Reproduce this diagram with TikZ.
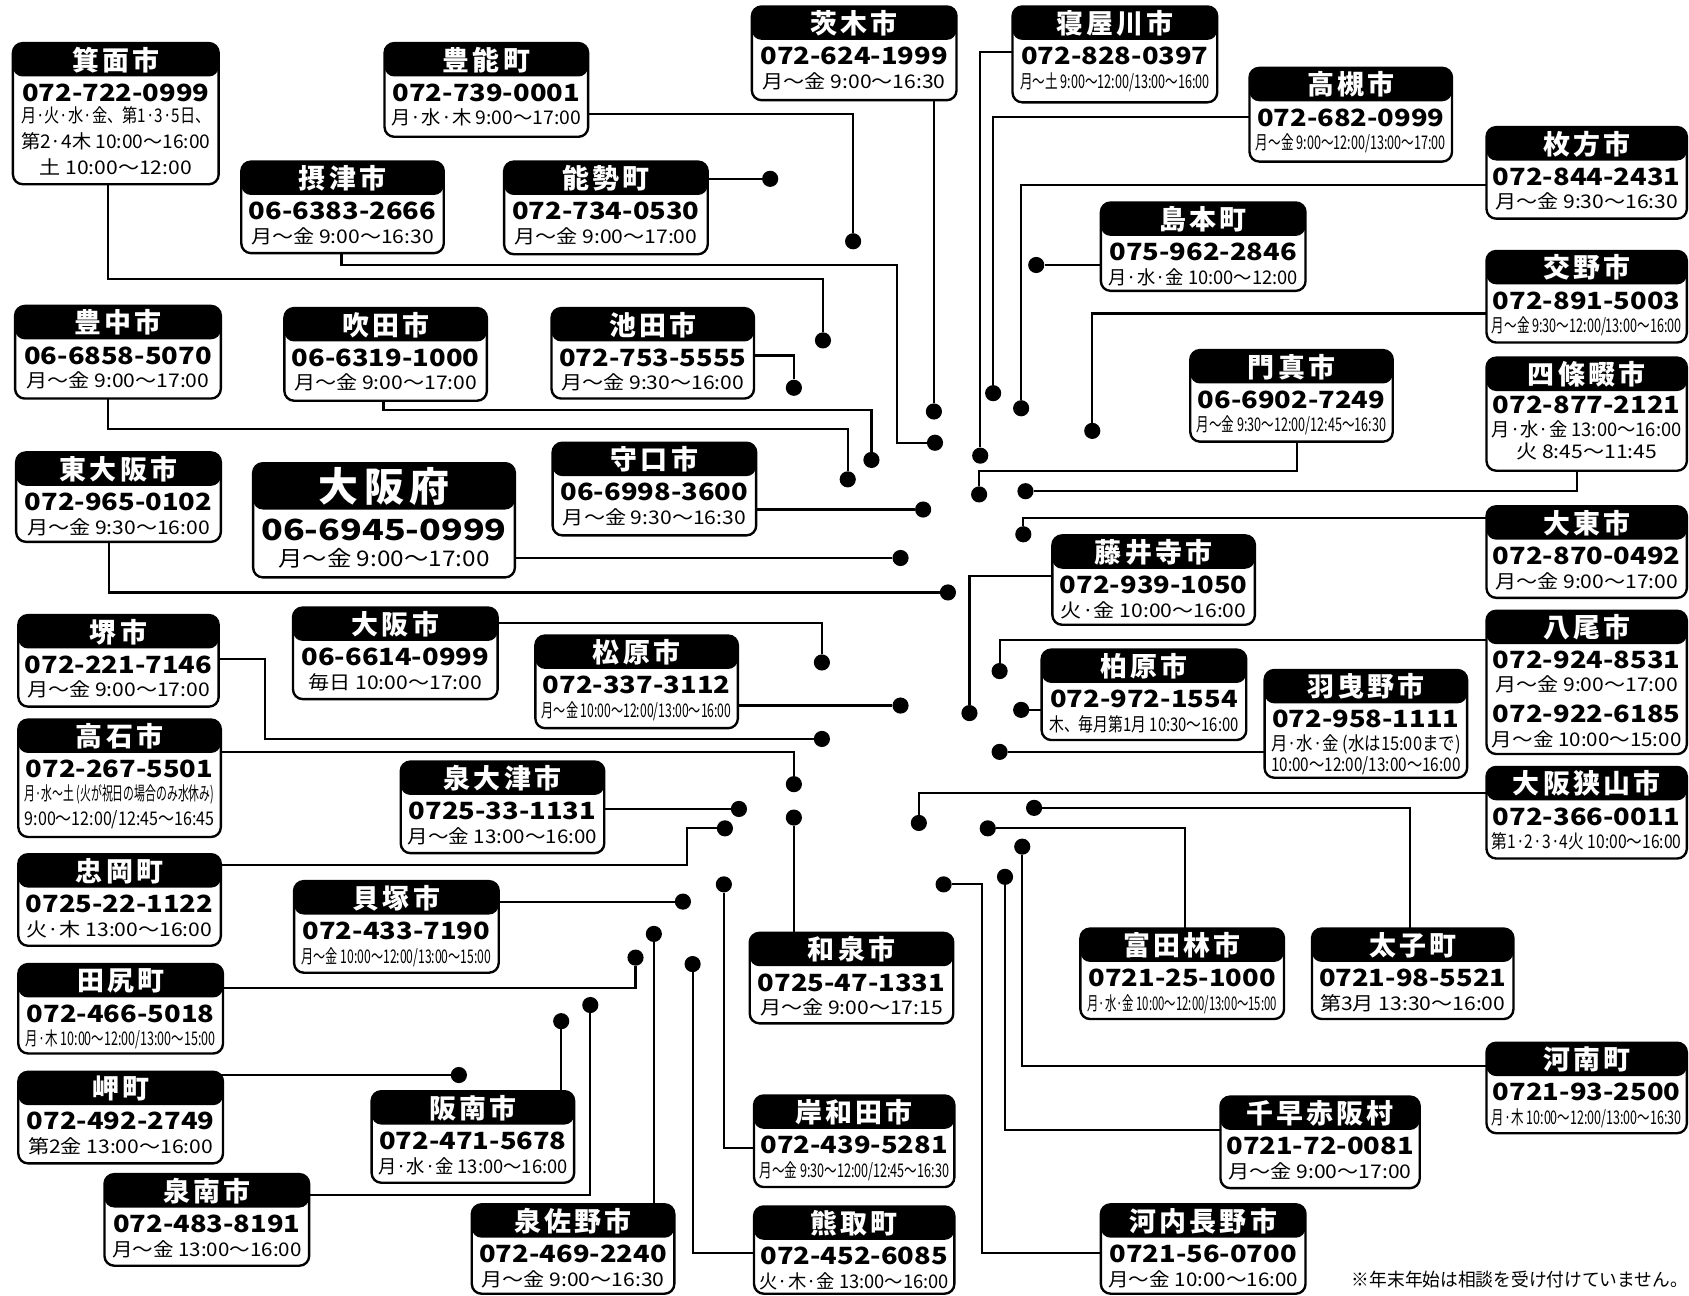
\documentclass[tikz,border=0pt]{standalone}
\usepackage{fontspec}
\setmainfont{Noto Sans CJK JP}
\usepackage{graphicx}
\newsavebox\tbx
\newcommand\PH[1]{\resizebox{174pt}{\height}{\fontsize{22}{22}\selectfont\bfseries #1}}
\newcommand\HR[1]{\sbox\tbx{\fontsize{17.5}{17.5}\selectfont #1}\pgfmathsetmacro\hrsc{min(1.12,176/\wd\tbx)}\scalebox{\hrsc}[1]{\usebox\tbx}}
\tikzset{
  cbx/.style={draw, line width=2.2pt, rounded corners=9pt, fill=white, inner sep=0pt, outer sep=0pt,
    path picture={\fill[black] (path picture bounding box.north west) rectangle ([yshift=-#1]path picture bounding box.north east);}},
  cbx/.default=31pt,
  ttl/.style={text=white, inner sep=0pt, font=\fontsize{25}{25}\selectfont\bfseries\addfontfeature{LetterSpace=12}},
  conn/.style={line width=2pt, line join=miter},
  dot/.style={circle, fill=black, inner sep=0pt, minimum size=15pt}
}
\newcommand\cbox[6]{\node[cbx, minimum width={(#4-#2)*1pt}, minimum height={(#5-#3)*1pt}] (#1) at ({(#2+#4)/2},{(#3+#5)/2}) {};
  \node[ttl] (#1t) at ({(#2+#4)/2},{#3+15.5}) {#6};}
\newcommand\bl[4]{\node[anchor=base, inner sep=0pt] (#1#2) at ([yshift=-#3pt]#1.north) {#4};}
\newcommand\dt[2]{\node[dot] (#1d) at (#2) {};}
\begin{document}
\begin{tikzpicture}[x=1pt,y=-1pt]
\fill[white] (0,0) rectangle (1568,1203);
\useasboundingbox (0,0) rectangle (1568,1203);

% ---------- boxes ----------
\cbox{minoh}{12}{40}{203}{171}{箕面市}
\bl{minoh}{1}{54}{\PH{072-722-0999}}
\bl{minoh}{2}{74}{\HR{月·火·水·金、第1·3·5日、}}
\bl{minoh}{3}{98}{\HR{第2·4木 10:00～16:00}}
\bl{minoh}{4}{122}{\HR{土 10:00～12:00}}

\cbox{toyono}{357}{40}{546}{127}{豊能町}
\bl{toyono}{1}{54}{\PH{072-739-0001}}
\bl{toyono}{2}{76}{\HR{月·水·木 9:00～17:00}}

\cbox{ibaraki}{698}{6}{888}{93}{茨木市}
\bl{ibaraki}{1}{54}{\PH{072-624-1999}}
\bl{ibaraki}{2}{76}{\HR{月～金 9:00～16:30}}

\cbox{neyagawa}{940}{6}{1130}{95}{寝屋川市}
\bl{neyagawa}{1}{54}{\PH{072-828-0397}}
\bl{neyagawa}{2}{76}{\HR{月～土 9:00～12:00/13:00～16:00}}

\cbox{takatsuki}{1160}{63}{1348}{150}{高槻市}
\bl{takatsuki}{1}{54}{\PH{072-682-0999}}
\bl{takatsuki}{2}{76}{\HR{月～金 9:00～12:00/13:00～17:00}}

\cbox{hirakata}{1380}{118}{1566}{203}{枚方市}
\bl{hirakata}{1}{54}{\PH{072-844-2431}}
\bl{hirakata}{2}{76}{\HR{月～金 9:30～16:30}}

\cbox{shimamoto}{1022}{188}{1212}{270}{島本町}
\bl{shimamoto}{1}{54}{\PH{075-962-2846}}
\bl{shimamoto}{2}{76}{\HR{月·水·金 10:00～12:00}}

\cbox{katano}{1380}{233}{1566}{318}{交野市}
\bl{katano}{1}{54}{\PH{072-891-5003}}
\bl{katano}{2}{76}{\HR{月～金 9:30～12:00/13:00～16:00}}

\cbox{kadoma}{1105}{325}{1293}{410}{門真市}
\bl{kadoma}{1}{54}{\PH{06-6902-7249}}
\bl{kadoma}{2}{76}{\HR{月～金 9:30～12:00/12:45～16:30}}

\cbox{shijonawate}{1380}{332}{1566}{437}{四條畷市}
\bl{shijonawate}{1}{52}{\PH{072-877-2121}}
\bl{shijonawate}{2}{73}{\HR{月·水·金 13:00～16:00}}
\bl{shijonawate}{3}{94}{\HR{火 8:45～11:45}}

\cbox{daito}{1380}{470}{1566}{555}{大東市}
\bl{daito}{1}{54}{\PH{072-870-0492}}
\bl{daito}{2}{76}{\HR{月～金 9:00～17:00}}

\cbox{fujiidera}{977}{497}{1165}{580}{藤井寺市}
\bl{fujiidera}{1}{54}{\PH{072-939-1050}}
\bl{fujiidera}{2}{76}{\HR{火·金 10:00～16:00}}

\cbox{yao}{1380}{567}{1566}{700}{八尾市}
\bl{yao}{1}{54}{\PH{072-924-8531}}
\bl{yao}{2}{75}{\HR{月～金 9:00～17:00}}
\bl{yao}{3}{104}{\PH{072-922-6185}}
\bl{yao}{4}{126}{\HR{月～金 10:00～15:00}}

\cbox{kashiwara}{967}{603}{1157}{687}{柏原市}
\bl{kashiwara}{1}{54}{\PH{072-972-1554}}
\bl{kashiwara}{2}{76}{\HR{木、毎月第1月 10:30～16:00}}

\cbox{habikino}{1174}{622}{1362}{722}{羽曳野市}
\bl{habikino}{1}{53}{\PH{072-958-1111}}
\bl{habikino}{2}{75}{\HR{月·水·金 (水は15:00まで)}}
\bl{habikino}{3}{94}{\HR{10:00～12:00/13:00～16:00}}

\cbox{osakasayama}{1380}{712}{1566}{797}{大阪狭山市}
\bl{osakasayama}{1}{54}{\PH{072-366-0011}}
\bl{osakasayama}{2}{76}{\HR{第1·2·3·4火 10:00～16:00}}

\cbox{taishi}{1218}{862}{1405}{946}{太子町}
\bl{taishi}{1}{54}{\PH{0721-98-5521}}
\bl{taishi}{2}{76}{\HR{第3月 13:30～16:00}}

\cbox{tondabayashi}{1003}{862}{1192}{946}{富田林市}
\bl{tondabayashi}{1}{54}{\PH{0721-25-1000}}
\bl{tondabayashi}{2}{76}{\HR{月·水·金 10:00～12:00/13:00～15:00}}

\cbox{kanan}{1380}{968}{1566}{1052}{河南町}
\bl{kanan}{1}{54}{\PH{0721-93-2500}}
\bl{kanan}{2}{76}{\HR{月·木 10:00～12:00/13:00～16:30}}

\cbox{chihaya}{1133}{1018}{1318}{1103}{千早赤阪村}
\bl{chihaya}{1}{54}{\PH{0721-72-0081}}
\bl{chihaya}{2}{76}{\HR{月～金 9:00～17:00}}

\cbox{kawachinagano}{1022}{1118}{1212}{1201}{河内長野市}
\bl{kawachinagano}{1}{54}{\PH{0721-56-0700}}
\bl{kawachinagano}{2}{76}{\HR{月～金 10:00～16:00}}

\cbox{izumi}{696}{866}{885}{950}{和泉市}
\bl{izumi}{1}{54}{\PH{0725-47-1331}}
\bl{izumi}{2}{76}{\HR{月～金 9:00～17:15}}

\cbox{kishiwada}{700}{1017}{886}{1102}{岸和田市}
\bl{kishiwada}{1}{54}{\PH{072-439-5281}}
\bl{kishiwada}{2}{76}{\HR{月～金 9:30～12:00/12:45～16:30}}

\cbox{kumatori}{700}{1120}{886}{1201}{熊取町}
\bl{kumatori}{1}{54}{\PH{072-452-6085}}
\bl{kumatori}{2}{76}{\HR{火·木·金 13:00～16:00}}

\cbox{izumisano}{438}{1118}{626}{1201}{泉佐野市}
\bl{izumisano}{1}{54}{\PH{072-469-2240}}
\bl{izumisano}{2}{76}{\HR{月～金 9:00～16:30}}

\cbox{sennan}{97}{1090}{287}{1175}{泉南市}
\bl{sennan}{1}{54}{\PH{072-483-8191}}
\bl{sennan}{2}{76}{\HR{月～金 13:00～16:00}}

\cbox{hannan}{345}{1013}{533}{1098}{阪南市}
\bl{hannan}{1}{54}{\PH{072-471-5678}}
\bl{hannan}{2}{76}{\HR{月·水·金 13:00～16:00}}

\cbox{misaki}{17}{995}{207}{1080}{岬町}
\bl{misaki}{1}{54}{\PH{072-492-2749}}
\bl{misaki}{2}{76}{\HR{第2金 13:00～16:00}}

\cbox{tajiri}{17}{895}{207}{978}{田尻町}
\bl{tajiri}{1}{54}{\PH{072-466-5018}}
\bl{tajiri}{2}{76}{\HR{月·木 10:00～12:00/13:00～15:00}}

\cbox{kaizuka}{273}{818}{463}{903}{貝塚市}
\bl{kaizuka}{1}{54}{\PH{072-433-7190}}
\bl{kaizuka}{2}{76}{\HR{月～金 10:00～12:00/13:00～15:00}}

\cbox{tadaoka}{17}{793}{205}{878}{忠岡町}
\bl{tadaoka}{1}{54}{\PH{0725-22-1122}}
\bl{tadaoka}{2}{76}{\HR{火·木 13:00～16:00}}

\cbox{izumiotsu}{372}{707}{561}{792}{泉大津市}
\bl{izumiotsu}{1}{54}{\PH{0725-33-1131}}
\bl{izumiotsu}{2}{76}{\HR{月～金 13:00～16:00}}

\cbox{takaishi}{17}{668}{205}{777}{高石市}
\bl{takaishi}{1}{54}{\PH{072-267-5501}}
\bl{takaishi}{2}{75}{\HR{月·水～土 (火が祝日の場合のみ水休み)}}
\bl{takaishi}{3}{98}{\HR{9:00～12:00/12:45～16:45}}

\cbox{sakai}{17}{571}{203}{656}{堺市}
\bl{sakai}{1}{54}{\PH{072-221-7146}}
\bl{sakai}{2}{76}{\HR{月～金 9:00～17:00}}

\cbox{osakashi}{272}{564}{462}{649}{大阪市}
\bl{osakashi}{1}{54}{\PH{06-6614-0999}}
\bl{osakashi}{2}{76}{\HR{毎日 10:00～17:00}}

\cbox{matsubara}{497}{590}{685}{676}{松原市}
\bl{matsubara}{1}{54}{\PH{072-337-3112}}
\bl{matsubara}{2}{76}{\HR{月～金 10:00～12:00/13:00～16:00}}

\cbox{higashiosaka}{15}{420}{205}{503}{東大阪市}
\bl{higashiosaka}{1}{54}{\PH{072-965-0102}}
\bl{higashiosaka}{2}{76}{\HR{月～金 9:30～16:00}}

\node[cbx=43pt, minimum width=243pt, minimum height=106pt] (osakafu) at (356.5,483) {};
\node[ttl, font=\fontsize{37}{37}\selectfont\bfseries\addfontfeature{LetterSpace=15}] (osakafut) at (356.5,452) {大阪府};
\bl{osakafu}{1}{72}{\resizebox{228pt}{\height}{\fontsize{27}{27}\selectfont\bfseries 06-6945-0999}}
\bl{osakafu}{2}{96}{\resizebox{196pt}{\height}{\fontsize{20}{20}\selectfont 月～金 9:00～17:00}}

\cbox{moriguchi}{513}{411}{702}{497}{守口市}
\bl{moriguchi}{1}{54}{\PH{06-6998-3600}}
\bl{moriguchi}{2}{76}{\HR{月～金 9:30～16:30}}

\cbox{toyonaka}{14}{284}{205}{370}{豊中市}
\bl{toyonaka}{1}{54}{\PH{06-6858-5070}}
\bl{toyonaka}{2}{76}{\HR{月～金 9:00～17:00}}

\cbox{suita}{264}{286}{452}{372}{吹田市}
\bl{suita}{1}{54}{\PH{06-6319-1000}}
\bl{suita}{2}{76}{\HR{月～金 9:00～17:00}}

\cbox{ikeda}{512}{286}{700}{370}{池田市}
\bl{ikeda}{1}{54}{\PH{072-753-5555}}
\bl{ikeda}{2}{76}{\HR{月～金 9:30～16:00}}

\cbox{settsu}{224}{150}{412}{235}{摂津市}
\bl{settsu}{1}{54}{\PH{06-6383-2666}}
\bl{settsu}{2}{76}{\HR{月～金 9:00～16:30}}

\cbox{nose}{468}{150}{657}{236}{能勢町}
\bl{nose}{1}{54}{\PH{072-734-0530}}
\bl{nose}{2}{76}{\HR{月～金 9:00～17:00}}

\node[inner sep=0pt, anchor=base] (note) at (1411,1194) {\resizebox{312pt}{\height}{\fontsize{17}{17}\selectfont ※年末年始は相談を受け付けていません。}};

% ---------- dots ----------
\dt{minoh}{764,316}
\dt{toyono}{792,224}
\dt{ibaraki}{867,382}
\dt{neyagawa}{910,423}
\dt{takatsuki}{922,365}
\dt{hirakata}{948,379}
\dt{shimamoto}{962,246}
\dt{katano}{1014,400}
\dt{kadoma}{909,459}
\dt{shijonawate}{952,456}
\dt{daito}{950,496}
\dt{fujiidera}{900,662}
\dt{yao}{928,623}
\dt{kashiwara}{948,659}
\dt{habikino}{928,698}
\dt{osakasayama}{853,764}
\dt{taishi}{960,750}
\dt{tondabayashi}{917,769}
\dt{kanan}{949,786}
\dt{chihaya}{933,814}
\dt{kawachinagano}{876,821}
\dt{izumi}{737,759}
\dt{kishiwada}{672,821}
\dt{kumatori}{643,895}
\dt{izumisano}{607,867}
\dt{sennan}{548,933}
\dt{hannan}{521,948}
\dt{misaki}{426,998}
\dt{tajiri}{590,889}
\dt{kaizuka}{634,837}
\dt{tadaoka}{673,769}
\dt{izumiotsu}{686,751}
\dt{takaishi}{737,728}
\dt{sakai}{763,686}
\dt{osakashi}{763,615}
\dt{matsubara}{836,655}
\dt{higashiosaka}{880,550}
\dt{osakafu}{836,518}
\dt{moriguchi}{857,473}
\dt{toyonaka}{787,445}
\dt{suita}{809,427}
\dt{ikeda}{737,360}
\dt{settsu}{868,411}
\dt{nose}{715,166}

% ---------- connectors ----------
\draw[conn] ([xshift=88pt]minoh.south west) -- (100,259) -- (764,259) -- (minohd);
\draw[conn] ([yshift=-66pt]toyono.north east) -- (792,106) -- (toyonod);
\draw[conn] ([xshift=-21pt]ibaraki.south east) -- (ibarakid);
\draw[conn] ([yshift=-42pt]neyagawa.north west) -- (910,48) -- (neyagawad);
\draw[conn] ([yshift=-46pt]takatsuki.north west) -- (922,109) -- (takatsukid);
\draw[conn] ([yshift=-54pt]hirakata.north west) -- (948,172) -- (hirakatad);
\draw[conn] ([yshift=-58pt]shimamoto.north west) -- (shimamotod);
\draw[conn] ([yshift=-58pt]katano.north west) -- (1014,291) -- (katanod);
\draw[conn] ([xshift=99pt]kadoma.south west) -- (1204,437) -- (909,437) -- (kadomad);
\draw[conn] ([xshift=84pt]shijonawate.south west) -- (1464,456) -- (shijonawated);
\draw[conn] ([yshift=-11pt]daito.north west) -- (950,481) -- (daitod);
\draw[conn] ([yshift=-38pt]fujiidera.north west) -- (900,535) -- (fujiiderad);
\draw[conn] ([yshift=-27pt]yao.north west) -- (928,594) -- (yaod);
\draw[conn] ([yshift=-56pt]kashiwara.north west) -- (kashiwarad);
\draw[conn] ([yshift=-76pt]habikino.north west) -- (habikinod);
\draw[conn] ([yshift=-24pt]osakasayama.north west) -- (853,736) -- (osakasayamad);
\draw[conn] ([xshift=91pt]taishi.north west) -- (1309,750) -- (taishid);
\draw[conn] ([xshift=97pt]tondabayashi.north west) -- (1100,769) -- (tondabayashid);
\draw[conn] ([yshift=-22pt]kanan.north west) -- (949,990) -- (kanand);
\draw[conn] ([yshift=-31pt]chihaya.north west) -- (933,1049) -- (chihayad);
\draw[conn] ([yshift=-45pt]kawachinagano.north west) -- (912,1163) -- (912,821) -- (kawachinaganod);
\draw[conn] ([xshift=41pt]izumi.north west) -- (izumid);
\draw[conn] ([yshift=-49pt]kishiwada.north west) -- (672,1066) -- (kishiwadad);
\draw[conn] ([yshift=-43pt]kumatori.north west) -- (643,1163) -- (kumatorid);
\draw[conn] ([xshift=169pt]izumisano.north west) -- (izumisanod);
\draw[conn] ([yshift=-19pt]sennan.north east) -- (548,1109) -- (sennand);
\draw[conn] ([xshift=176pt]hannan.north west) -- (hannand);
\draw[conn] ([xshift=-4pt,yshift=-3pt]misaki.north east) -- (misakid);
\draw[conn] ([yshift=-22pt]tajiri.north east) -- (590,917) -- (tajirid);
\draw[conn] ([yshift=-19pt]kaizuka.north east) -- (kaizukad);
\draw[conn] ([yshift=-10pt]tadaoka.north east) -- (638,803) -- (638,769) -- (tadaokad);
\draw[conn] ([yshift=-44pt]izumiotsu.north east) -- (izumiotsud);
\draw[conn] ([yshift=-30pt]takaishi.north east) -- (737,698) -- (takaishid);
\draw[conn] ([yshift=-41pt]sakai.north east) -- (246,612) -- (246,686) -- (sakaid);
\draw[conn] ([yshift=-14pt]osakashi.north east) -- (763,578) -- (osakashid);
\draw[conn] ([yshift=-65pt]matsubara.north east) -- (matsubarad);
\draw[conn] ([xshift=86pt]higashiosaka.south west) -- (101,550) -- (higashiosakad);
\draw[conn] ([yshift=-88pt]osakafu.north east) -- (osakafud);
\draw[conn] ([yshift=-62pt]moriguchi.north east) -- (moriguchid);
\draw[conn] ([xshift=86pt]toyonaka.south west) -- (100,398) -- (787,398) -- (toyonakad);
\draw[conn] ([xshift=92pt]suita.south west) -- (356,381) -- (809,381) -- (suitad);
\draw[conn] ([yshift=-44pt]ikeda.north east) -- (737,330) -- (ikedad);
\draw[conn] ([xshift=93pt]settsu.south west) -- (317,246) -- (833,246) -- (833,411) -- (settsud);
\draw[conn] ([yshift=-16pt]nose.north east) -- (nosed);
\end{tikzpicture}
\end{document}
